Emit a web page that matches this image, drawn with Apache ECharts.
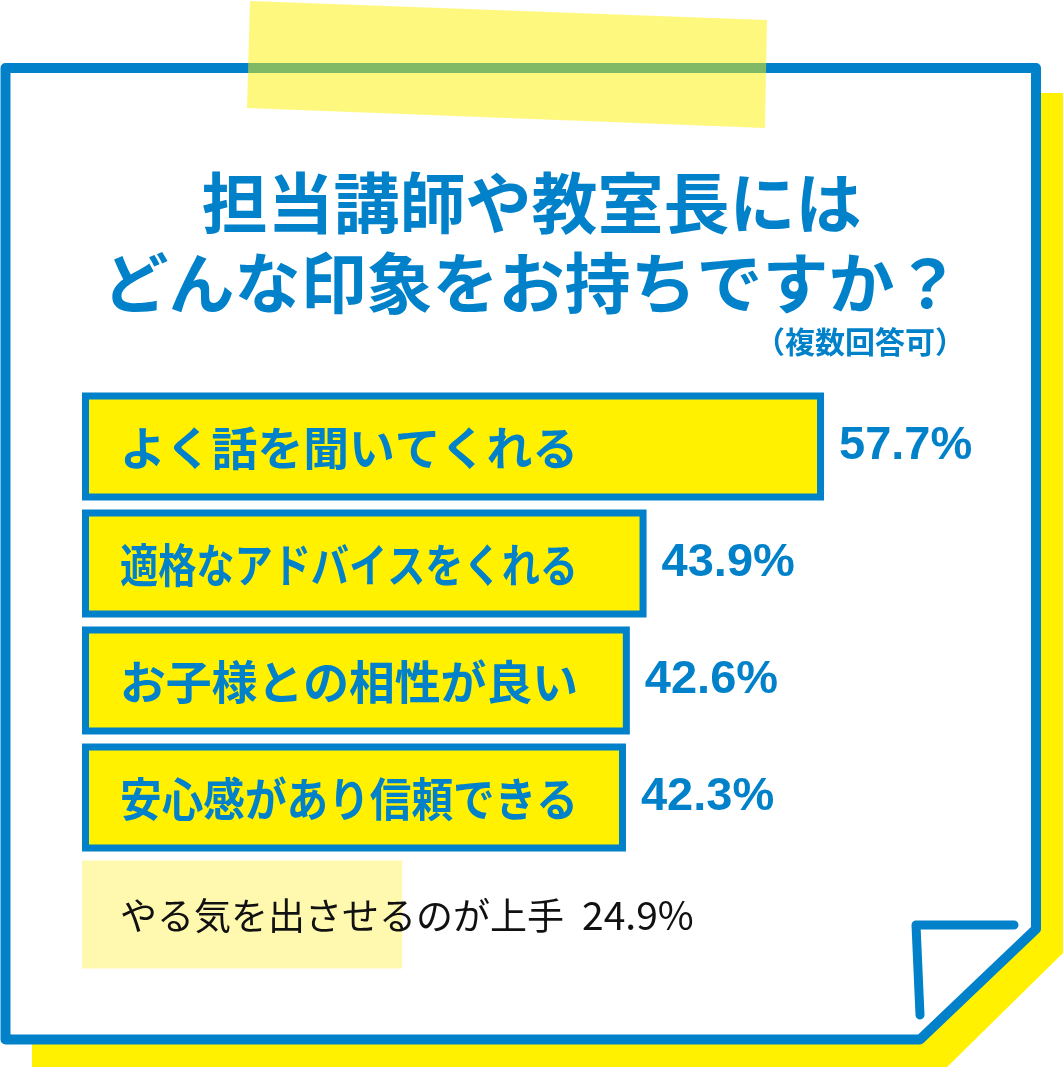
<!DOCTYPE html>
<html><head><meta charset="utf-8">
<script src="https://cdn.jsdelivr.net/npm/echarts@6/dist/echarts.min.js"></script>
<style>html,body{margin:0;padding:0;background:#fff}#c{width:1063px;height:1067px}</style>
</head><body><div id="c"></div>
<script>
const categories = ['よく話を聞いてくれる','適格なアドバイスをくれる','お子様との相性が良い','安心感があり信頼できる','やる気を出させるのが上手'];
const values = [57.7, 43.9, 42.6, 42.3, 24.9];
const titleLines = ['担当講師や教室長には','どんな印象をお持ちですか？'];
const subtitle = '（複数回答可）';

const BLUE = '#0081CA';
const YELLOW = '#FFF100';
const LIGHT = '#FFF9B0';
const highlightCount = 4;

const cv = document.createElement('canvas').getContext('2d');

const chart = echarts.init(document.getElementById('c'), null, {renderer:'canvas'});
chart.setOption({
  animation: false,
  backgroundColor: '#fff',
  title: [{
    text: titleLines.join('\n'),
    left: 'center', top: 163, padding: 0,
    textStyle: {color: BLUE, fontSize: 66, fontWeight: 'bold', lineHeight: 80, fontFamily: '"Noto Sans CJK JP"'}
  },{
    text: subtitle,
    right: 98, top: 327, padding: 0,
    textStyle: {color: BLUE, fontSize: 30, fontWeight: 'bold', fontFamily: '"Noto Sans CJK JP"'}
  }],
  graphic: [
    {type:'polygon', z:-10, shape:{points:[[32,93],[1070,93],[1070,946],[939,1075],[32,1075]]}, style:{fill:YELLOW}},
    {type:'polygon', z:-9, shape:{points:[[5.5,68],[1036,68],[1036,929],[920,1039.5],[5.5,1039.5]]}, style:{fill:'#fff', stroke:BLUE, lineWidth:10, lineJoin:'round'}},
    {type:'polyline', z:-8, shape:{points:[[1014,925],[916,925],[920,1015]]}, style:{stroke:BLUE, lineWidth:9, lineCap:'round', lineJoin:'round', fill:null}},
    {type:'polygon', z:20, shape:{points:[[250,1],[767,20],[765,128],[247,108]]}, style:{fill:'rgba(255,241,0,0.5)'}}
  ],
  grid: {left: 82, top: 388, width: 771.6, height: 585, containLabel: false},
  xAxis: {type:'value', min:0, max:60, show:false},
  yAxis: {type:'category', data: categories, inverse: true, show:false},
  series: [{
    type: 'bar',
    barWidth: 108,
    z: 3,
    data: values.map((v,i) => i < highlightCount
      ? {value: v, itemStyle: {color: YELLOW, borderColor: BLUE, borderWidth: 7}}
      : {value: v, itemStyle: {color: LIGHT, borderWidth: 0}, label: {show: false}}),
    label: {
      show: true, position: 'right', distance: 15,
      formatter: p => p.value + '%',
      color: BLUE, fontSize: 47, fontWeight: 'bold', fontFamily: '"Liberation Sans", Arial, sans-serif'
    }
  },{
    type: 'custom',
    z: 6,
    encode: {x: 0, y: 1},
    data: categories.map((c,i) => [0, i]),
    renderItem: function(params, api){
      const i = api.value(1);
      const p = api.coord([0, i]);
      const main = i < highlightCount;
      if (main) {
        const font = 'bold 46px "Noto Sans CJK JP"';
        cv.font = font;
        const w = cv.measureText(categories[i]).width;
        const sx = Math.min(1, 458 / w);
        return {
          type: 'text', x: p[0] + 38, y: p[1] + 1, scaleX: sx,
          style: {text: categories[i], font: font, fill: BLUE, align: 'left', verticalAlign: 'middle'}
        };
      }
      return {
        type: 'text', x: p[0] + 38, y: p[1] + 1,
        style: {
          text: '{n|' + categories[i] + '}{v|' + values[i] + '%}',
          align: 'left', verticalAlign: 'middle',
          rich: {
            n: {fontSize: 37, fontFamily: '"Noto Sans CJK JP"', fill: '#111', color: '#111'},
            v: {fontSize: 39, fontFamily: '"Noto Sans CJK JP"', fill: '#111', color: '#111', padding: [0,0,0,18]}
          }
        }
      };
    }
  }]
});
</script>
</body></html>
